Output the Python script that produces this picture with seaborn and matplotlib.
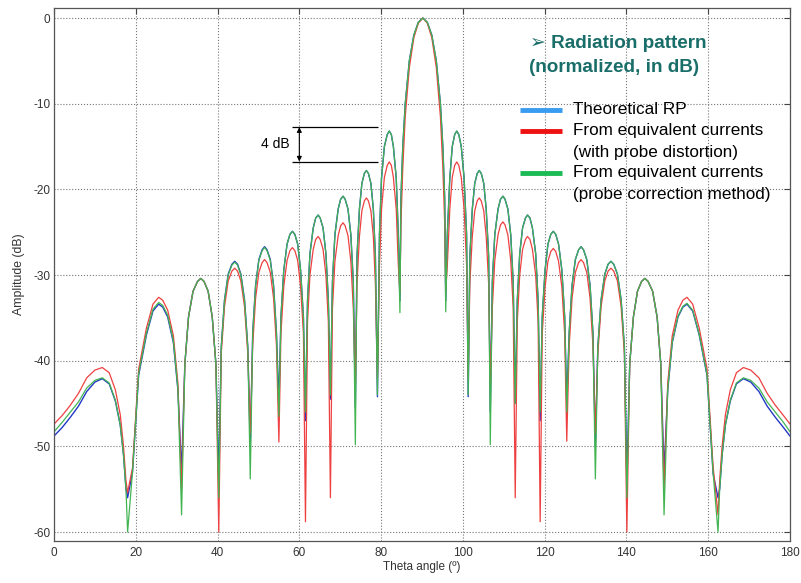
import matplotlib
matplotlib.use("Agg")
import matplotlib.pyplot as plt
import seaborn as sns
from matplotlib.lines import Line2D

# ---------------- data ----------------
theta = [
    0, 2, 4, 6, 8, 10, 11.8, 13.5, 15.0, 16.2, 17.0, 17.6,
    18.0, 19.2, 20.7, 22.6, 24.2, 25.6, 26.6, 27.8, 29.2, 30.3,
    31.2, 32.0, 32.9, 34.0, 35.1, 35.9, 36.7, 37.7, 38.7, 39.6,
    40.3, 40.9, 41.7, 42.6, 43.5, 44.2, 44.9, 45.7, 46.6, 47.4,
    48.0, 48.6, 49.3, 50.1, 50.9, 51.5, 52.1, 52.9, 53.7, 54.4,
    55.0, 55.5, 56.2, 57.0, 57.7, 58.3, 58.9, 59.6, 60.3, 61.0,
    61.5, 62.0, 62.6, 63.4, 64.0, 64.6, 65.1, 65.8, 66.5, 67.1,
    67.6, 68.1, 68.7, 69.5, 70.1, 70.7, 71.2, 71.9, 72.6, 73.2,
    73.7, 74.1, 74.7, 75.3, 75.9, 76.4, 76.9, 77.5, 78.1, 78.6,
    79.1, 79.6, 80.1, 80.8, 81.5, 82.0, 82.5, 83.0, 83.7, 84.2,
    84.6, 84.85, 85.3, 85.9, 86.9, 88.0, 89.1, 90.2, 91.3, 92.4, 93.5, 94.5, 95.1, 95.55,
    95.8, 96.2, 96.8, 97.4, 98.0, 98.5, 99.0, 99.6, 100.3, 100.9,
    101.3, 101.7, 102.3, 102.9, 103.5, 104.0, 104.5, 105.1, 105.7, 106.3,
    106.7, 107.2, 107.8, 108.6, 109.2, 109.8, 110.3, 111.0, 111.7, 112.3,
    112.8, 113.3, 113.9, 114.6, 115.3, 115.8, 116.4, 117.0, 117.8, 118.4,
    118.9, 119.4, 120.1, 120.8, 121.5, 122.1, 122.7, 123.4, 124.2, 124.9,
    125.4, 126.0, 126.7, 127.5, 128.3, 128.9, 129.5, 130.3, 131.1, 131.8,
    132.4, 133.0, 133.8, 134.7, 135.5, 136.2, 136.9, 137.8, 138.7, 139.5,
    140.1, 140.8, 141.7, 142.7, 143.7, 144.5, 145.3, 146.4, 147.5, 148.4,
    149.2, 150.1, 151.2, 152.6, 153.8, 154.8, 156.2, 157.8, 159.7, 161.2,
    162.4, 162.8, 163.4, 164.2, 165.4, 166.9, 168.6, 170.4, 172.4, 174.4, 176.4, 178.4, 180.0,
]

theoretical_db = [
    -48.8, -47.8, -46.6, -45.3, -43.6, -42.5, -42.1, -42.7, -44.7, -47.5, -51.0, -55.0,
    -56.0, -53.0, -41.7, -37.0, -34.2, -33.4, -33.75, -34.9, -37.9, -43.4,
    -53.0, -40.4, -34.9, -31.9, -30.75, -30.4, -30.75, -31.9, -34.9, -40.4,
    -54.0, -38.4, -32.9, -29.9, -28.75, -28.4, -28.75, -29.9, -32.9, -38.4,
    -50.0, -36.7, -31.2, -28.2, -27.05, -26.7, -27.05, -28.2, -31.2, -36.7,
    -45.0, -34.9, -29.4, -26.4, -25.25, -24.9, -25.25, -26.4, -29.4, -34.9,
    -47.0, -33.0, -27.5, -24.5, -23.35, -23.0, -23.35, -24.5, -27.5, -33.0,
    -44.5, -30.8, -25.3, -22.3, -21.15, -20.8, -21.15, -22.3, -25.3, -30.8,
    -45.5, -27.8, -22.3, -19.3, -18.15, -17.8, -18.15, -19.3, -22.3, -27.8,
    -44.2, -25.2, -18.7, -15.0, -13.6, -13.2, -13.6, -15.0, -18.7, -25.2,
    -33.0, -21.0, -15.0, -10.0, -5.0, -2.0, -0.5, 0.0, -0.5, -2.0, -5.0, -10.0, -15.0, -21.0,
    -33.0, -25.2, -18.7, -15.0, -13.6, -13.2, -13.6, -15.0, -18.7, -25.2,
    -44.2, -27.8, -22.3, -19.3, -18.15, -17.8, -18.15, -19.3, -22.3, -27.8,
    -46.0, -30.8, -25.3, -22.3, -21.15, -20.8, -21.15, -22.3, -25.3, -30.8,
    -45.0, -33.0, -27.5, -24.5, -23.35, -23.0, -23.35, -24.5, -27.5, -33.0,
    -47.0, -34.9, -29.4, -26.4, -25.25, -24.9, -25.25, -26.4, -29.4, -34.9,
    -45.0, -36.7, -31.2, -28.2, -27.05, -26.7, -27.05, -28.2, -31.2, -36.7,
    -50.0, -38.4, -32.9, -29.9, -28.75, -28.4, -28.75, -29.9, -32.9, -38.4,
    -54.0, -40.4, -34.9, -31.9, -30.75, -30.4, -30.75, -31.9, -34.9, -40.4,
    -53.0, -43.4, -37.9, -34.9, -33.75, -33.4, -34.2, -37.0, -41.7, -53.2,
    -56.0, -55.0, -51.0, -47.5, -44.7, -42.7, -42.1, -42.5, -43.6, -45.3, -46.6, -47.8, -48.8,
]

distorted_db = [
    -47.4, -46.4, -45.2, -43.8, -42.0, -41.1, -40.8, -41.4, -43.4, -46.3, -50.0, -54.0,
    -55.4, -52.5, -41.0, -36.2, -33.4, -32.6, -32.95, -34.1, -37.1, -42.6,
    -55.0, -40.4, -34.9, -31.9, -30.75, -30.4, -30.75, -31.9, -34.9, -40.4,
    -60.0, -39.2, -33.7, -30.7, -29.55, -29.2, -29.55, -30.7, -33.7, -39.2,
    -48.5, -38.2, -32.7, -29.7, -28.55, -28.2, -28.55, -29.7, -32.7, -38.2,
    -49.5, -36.8, -31.3, -28.3, -27.15, -26.8, -27.15, -28.3, -31.3, -36.8,
    -58.8, -35.5, -30.0, -27.0, -25.85, -25.5, -25.85, -27.0, -30.0, -35.5,
    -56.0, -33.9, -28.4, -25.4, -24.25, -23.9, -24.25, -25.4, -28.4, -33.9,
    -43.0, -31.0, -25.5, -22.5, -21.35, -21.0, -21.35, -22.5, -25.5, -31.0,
    -42.0, -28.8, -22.3, -18.6, -17.2, -16.8, -17.2, -18.6, -22.3, -28.8,
    -32.1, -24.0, -17.5, -11.5, -5.8, -2.3, -0.6, 0.0, -0.6, -2.3, -5.8, -11.5, -17.5, -24.0,
    -32.0, -28.8, -22.3, -18.6, -17.2, -16.8, -17.2, -18.6, -22.3, -28.8,
    -42.0, -31.0, -25.5, -22.5, -21.35, -21.0, -21.35, -22.5, -25.5, -31.0,
    -43.0, -33.8, -28.3, -25.3, -24.15, -23.8, -24.15, -25.3, -28.3, -33.8,
    -56.0, -35.5, -30.0, -27.0, -25.85, -25.5, -25.85, -27.0, -30.0, -35.5,
    -58.8, -36.9, -31.4, -28.4, -27.25, -26.9, -27.25, -28.4, -31.4, -36.9,
    -49.4, -38.2, -32.7, -29.7, -28.55, -28.2, -28.55, -29.7, -32.7, -38.2,
    -48.5, -39.2, -33.7, -30.7, -29.55, -29.2, -29.55, -30.7, -33.7, -39.2,
    -60.0, -40.4, -34.9, -31.9, -30.75, -30.4, -30.75, -31.9, -34.9, -40.4,
    -55.0, -42.6, -37.1, -34.1, -32.95, -32.6, -33.4, -36.2, -40.9, -52.4,
    -58.0, -54.0, -50.0, -46.3, -43.4, -41.4, -40.8, -41.1, -42.0, -43.8, -45.2, -46.4, -47.4,
]

corrected_db = [
    -48.3, -47.2, -46.0, -44.8, -43.2, -42.3, -42.0, -42.6, -44.6, -47.5, -51.0, -55.0,
    -60.0, -53.0, -41.5, -36.8, -34.0, -33.2, -33.55, -34.7, -37.7, -43.2,
    -58.0, -40.4, -34.9, -31.9, -30.75, -30.4, -30.75, -31.9, -34.9, -40.4,
    -56.0, -38.5, -33.0, -30.0, -28.85, -28.5, -28.85, -30.0, -33.0, -38.5,
    -53.8, -36.8, -31.3, -28.3, -27.15, -26.8, -27.15, -28.3, -31.3, -36.8,
    -46.5, -34.9, -29.4, -26.4, -25.25, -24.9, -25.25, -26.4, -29.4, -34.9,
    -46.0, -33.0, -27.5, -24.5, -23.35, -23.0, -23.35, -24.5, -27.5, -33.0,
    -44.0, -30.8, -25.3, -22.3, -21.15, -20.8, -21.15, -22.3, -25.3, -30.8,
    -49.8, -27.8, -22.3, -19.3, -18.15, -17.8, -18.15, -19.3, -22.3, -27.8,
    -44.0, -25.2, -18.7, -15.0, -13.6, -13.2, -13.6, -15.0, -18.7, -25.2,
    -34.4, -21.0, -15.0, -10.0, -5.0, -2.0, -0.5, 0.0, -0.5, -2.0, -5.0, -10.0, -15.0, -21.0,
    -34.3, -25.2, -18.7, -15.0, -13.6, -13.2, -13.6, -15.0, -18.7, -25.2,
    -44.0, -27.8, -22.3, -19.3, -18.15, -17.8, -18.15, -19.3, -22.3, -27.8,
    -49.8, -30.8, -25.3, -22.3, -21.15, -20.8, -21.15, -22.3, -25.3, -30.8,
    -45.0, -33.0, -27.5, -24.5, -23.35, -23.0, -23.35, -24.5, -27.5, -33.0,
    -46.0, -34.9, -29.4, -26.4, -25.25, -24.9, -25.25, -26.4, -29.4, -34.9,
    -46.0, -36.7, -31.2, -28.2, -27.05, -26.7, -27.05, -28.2, -31.2, -36.7,
    -53.8, -38.4, -32.9, -29.9, -28.75, -28.4, -28.75, -29.9, -32.9, -38.4,
    -56.0, -40.4, -34.9, -31.9, -30.75, -30.4, -30.75, -31.9, -34.9, -40.4,
    -58.0, -43.3, -37.8, -34.8, -33.65, -33.3, -34.1, -36.9, -41.6, -53.1,
    -60.0, -55.0, -51.0, -47.5, -44.6, -42.6, -42.0, -42.3, -43.2, -44.8, -46.0, -47.2, -48.3,
]

assert len(theta) == len(theoretical_db) == len(distorted_db) == len(corrected_db)

x_ticks = [0, 20, 40, 60, 80, 100, 120, 140, 160, 180]
y_ticks = [0, -10, -20, -30, -40, -50, -60]
x_tick_labels = ["0", "20", "40", "60", "80", "100", "120", "140", "160", "180"]
y_tick_labels = ["0", "-10", "-20", "-30", "-40", "-50", "-60"]

legend_labels = ["Theoretical RP",
                 "From equivalent currents", "(with probe distortion)",
                 "From equivalent currents", "(probe correction method)"]
title_lines = ["\u27a2 Radiation pattern", "(normalized, in dB)"]
gap_top_db, gap_bottom_db = -12.75, -16.75
gap_label = "4 dB"

# ---------------- style ----------------
sns.set_style("white")
plt.rcParams["font.family"] = ["Liberation Sans", "DejaVu Sans"]
plt.rcParams["axes.unicode_minus"] = False

W, H = 801, 583
fig = plt.figure(figsize=(W / 100, H / 100), dpi=100)
fig.patch.set_facecolor("white")
ax = fig.add_axes([54 / W, 1 - 541 / H, (790 - 54) / W, (541 - 8) / H])

plot_blue, plot_red, plot_green = "#2438c8", "#ee4040", "#42b552"

sns.lineplot(x=theta, y=theoretical_db, ax=ax, color=plot_blue, lw=1.0,
             estimator=None, sort=False)
sns.lineplot(x=theta, y=distorted_db, ax=ax, color=plot_red, lw=0.9,
             estimator=None, sort=False)
sns.lineplot(x=theta, y=corrected_db, ax=ax, color=plot_green, lw=0.9,
             estimator=None, sort=False)

ax.set_xlim(0, 180)
ax.set_ylim(-61.05, 1.17)
ax.set_xticks(x_ticks)
ax.set_xticklabels(x_tick_labels)
ax.set_yticks(y_ticks)
ax.set_yticklabels(y_tick_labels)
ax.tick_params(direction="in", top=True, right=True, length=4, width=0.8,
               labelsize=8.5, labelcolor="#333333", color="#444444")
ax.tick_params(axis="x", pad=4.5)
ax.tick_params(axis="y", pad=2.5)
ax.grid(True, ls=":", color="#777777", lw=0.8)
for s in ax.spines.values():
    s.set_color("#555555")
    s.set_linewidth(0.9)
ax.set_xlabel("Theta angle (\u00ba)", fontsize=8.5, color="#333333")
ax.set_ylabel("Amplitude (dB)", fontsize=8.8, color="#333333")
ax.xaxis.set_label_coords(0.5, -0.038)
ax.yaxis.set_label_coords(-0.040, 0.5)

# 4 dB annotation
ax.hlines([gap_top_db, gap_bottom_db], 58.3, 79.2, color="black", lw=0.9)
ax.annotate("", xy=(60, gap_top_db), xytext=(60, gap_bottom_db),
            arrowprops=dict(arrowstyle="<|-|>", color="black", lw=0.8,
                            mutation_scale=7, shrinkA=0, shrinkB=0))
ax.text(57.6, (gap_top_db + gap_bottom_db) / 2, gap_label, ha="right",
        va="center", fontsize=10, color="black")

# title block
teal = "#1a6e69"
fig.text(530 / W, 1 - 43 / H, title_lines[0], fontsize=13.6, fontweight="bold",
         color=teal, va="center", ha="left")
fig.text(529 / W, 1 - 68 / H, title_lines[1], fontsize=13.6, fontweight="bold",
         color=teal, va="center", ha="left")

# legend (drawn manually)
leg_blue, leg_red, leg_green = "#3a9cf0", "#ee1111", "#1dbb55"
rows_y = [110, 131, 152, 173, 195]
for txt, yy in zip(legend_labels, rows_y):
    fig.text(573 / W, 1 - yy / H, txt, fontsize=12.3, color="black",
             va="center", ha="left")
for col, yy in zip([leg_blue, leg_red, leg_green], [rows_y[0], rows_y[1], rows_y[3]]):
    fig.add_artist(Line2D([520 / W, 562 / W], [1 - yy / H, 1 - yy / H],
                          transform=fig.transFigure, color=col, lw=3.5,
                          solid_capstyle="butt"))

fig.savefig("out.png", dpi=100, facecolor="white")
